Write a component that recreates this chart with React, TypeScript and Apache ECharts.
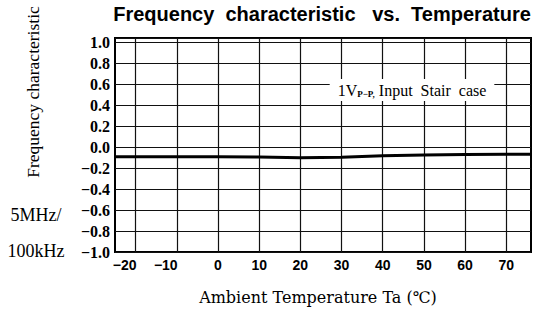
import React, { useEffect, useRef } from "react";
import * as echarts from "echarts";

const temps = [-25, -20, -10, 0, 10, 20, 30, 40, 50, 60, 70, 76];
const values = [-0.09, -0.09, -0.09, -0.09, -0.092, -0.1, -0.095, -0.08, -0.072, -0.068, -0.066, -0.065];
const xTicks = [-20, -10, 0, 10, 20, 30, 40, 50, 60, 70];
const title = "Frequency  characteristic   vs.  Temperature";
const yName = "Frequency characteristic";
const yName2 = ["5MHz/", "100kHz"];
const xName = "Ambient Temperature Ta (\u2103)";

const serif = "'Liberation Serif', 'DejaVu Serif', serif";
const wideSerif = "'DejaVu Serif', 'Liberation Serif', serif";
const sans = "'Liberation Sans', Arial, sans-serif";
const narrow = "'Liberation Sans Narrow', 'Liberation Sans', sans-serif";

export default function App() {
  const ref = useRef<HTMLDivElement>(null);
  useEffect(() => {
    const chart = echarts.init(ref.current!, null, { renderer: "svg" });
    const fmtNum = (v: number) => (v < 0 ? "\u2212" + Math.abs(v) : String(v));
    chart.setOption({
      animation: false,
      backgroundColor: "#fff",
      grid: {
        left: 115,
        right: 10,
        top: 38,
        bottom: 61,
        show: true,
        borderColor: "#000",
        borderWidth: 2,
        backgroundColor: "transparent",
      },
      xAxis: {
        type: "value",
        min: -25,
        max: 76,
        axisLine: { show: false },
        axisTick: { show: false },
        splitLine: { show: false },
        axisLabel: {
          customValues: xTicks,
          margin: 6,
          formatter: (v: number) => (v < 0 ? "{neg|" + fmtNum(v) + "}" : String(v)),
          fontFamily: narrow,
          fontWeight: "bold",
          fontSize: 14,
          color: "#000",
          rich: {
            neg: {
              fontFamily: narrow,
              fontWeight: "bold",
              fontSize: 14,
              color: "#000",
              padding: [0, 22, 0, 0],
            },
          },
        },
      },
      yAxis: {
        type: "value",
        min: -1,
        max: 1.045,
        interval: 0.2,
        axisLine: { show: false },
        axisTick: { show: false },
        splitLine: { show: true, lineStyle: { color: "#111", width: 1.2 } },
        axisLabel: {
          showMaxLabel: false,
          margin: 5,
          formatter: (v: number) => (v < 0 ? "\u2212" + Math.abs(v).toFixed(1) : v.toFixed(1)),
          fontFamily: serif,
          fontWeight: "bold",
          fontSize: 16,
          color: "#000",
        },
      },
      series: [
        {
          type: "line",
          data: temps.map((t, i) => [t, values[i]]),
          showSymbol: false,
          lineStyle: { color: "#000", width: 3 },
          markLine: {
            silent: true,
            symbol: "none",
            label: { show: false },
            lineStyle: { color: "#111", width: 1.2, type: "solid" },
            data: xTicks.map((x) => ({ xAxis: x })),
          },
          z: 5,
        },
      ],
      graphic: [
        {
          type: "text",
          x: 322,
          y: 14,
          style: {
            text: title,
            fontFamily: sans,
            fontWeight: "bold",
            fontSize: 20,
            fill: "#000",
            align: "center",
            verticalAlign: "middle",
          },
        },
        {
          type: "text",
          x: 33,
          y: 92,
          rotation: Math.PI / 2,
          style: {
            text: yName,
            fontFamily: serif,
            fontSize: 17.5,
            fill: "#000",
            align: "center",
            verticalAlign: "middle",
          },
        },
        {
          type: "text",
          x: 36,
          y: 215,
          style: { text: yName2[0], fontFamily: serif, fontSize: 18, fill: "#000", align: "center", verticalAlign: "middle" },
        },
        {
          type: "text",
          x: 36,
          y: 251,
          style: { text: yName2[1], fontFamily: serif, fontSize: 18, fill: "#000", align: "center", verticalAlign: "middle" },
        },
        {
          type: "text",
          x: 318,
          y: 297,
          style: { text: xName, fontFamily: wideSerif, fontSize: 16, fill: "#000", align: "center", verticalAlign: "middle" },
        },
        {
          type: "text",
          x: 412,
          y: 90,
          z: 10,
          style: {
            text: "{a|1V}{s|P\u2212P,}{a| Input  Stair  case}",
            align: "center",
            verticalAlign: "middle",
            backgroundColor: "#fff",
            padding: [3, 8, 3, 8],
            rich: {
              a: { fontFamily: serif, fontSize: 16, fill: "#000", color: "#000" },
              s: { fontFamily: serif, fontSize: 9, fontWeight: "bold", color: "#000", verticalAlign: "bottom", padding: [6, 0, 0, 0] },
            },
          },
        },
      ],
    });
    return () => chart.dispose();
  }, []);
  return <div ref={ref} style={{ width: 541, height: 313, position: "absolute", left: 0, top: 0 }} />;
}
